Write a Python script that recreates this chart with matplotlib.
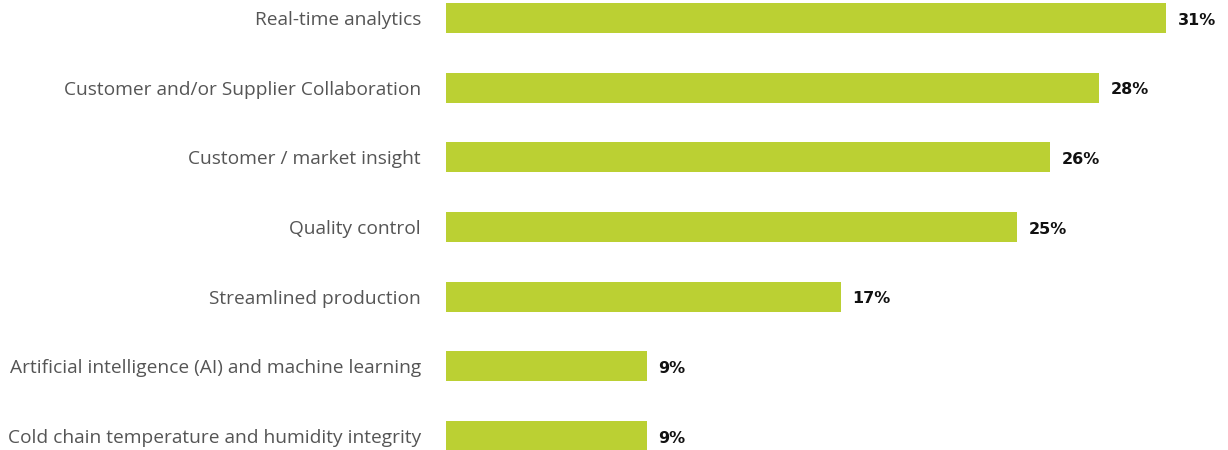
import matplotlib
matplotlib.use("Agg")
import matplotlib.pyplot as plt
import numpy as np

categories = [
    "Real-time analytics",
    "Customer and/or Supplier Collaboration",
    "Customer / market insight",
    "Quality control",
    "Streamlined production",
    "Artificial intelligence (AI) and machine learning",
    "Cold chain temperature and humidity integrity",
]
values = [31.0, 28.1, 26.0, 24.6, 17.0, 8.65, 8.65]
value_labels = ["31%", "28%", "26%", "25%", "17%", "9%", "9%"]

W, H = 1228, 450
fig = plt.figure(figsize=(W / 100, H / 100), dpi=100)
ax = fig.add_axes([446 / W, 0, 720 / W, 1])

ypos = np.arange(len(categories))
ax.barh(ypos, values, height=0.43, color="#BBD033")
ax.set_xlim(0, 31.0)
ax.set_ylim(6.2, -0.258)

for y, v, lab in zip(ypos, values, value_labels):
    ax.text(v + 0.5, y + 0.03, lab, va="center", ha="left", fontsize=11.5,
            fontweight="bold", color="#111111", family="DejaVu Sans", clip_on=False)

ax.set_yticks(ypos)
ax.set_yticklabels(categories, fontsize=13.8, color="#555555", family="Open Sans")
ax.tick_params(axis="y", length=0, pad=18)
ax.set_xticks([])
for s in ax.spines.values():
    s.set_visible(False)

fig.savefig("out.png", dpi=100)
